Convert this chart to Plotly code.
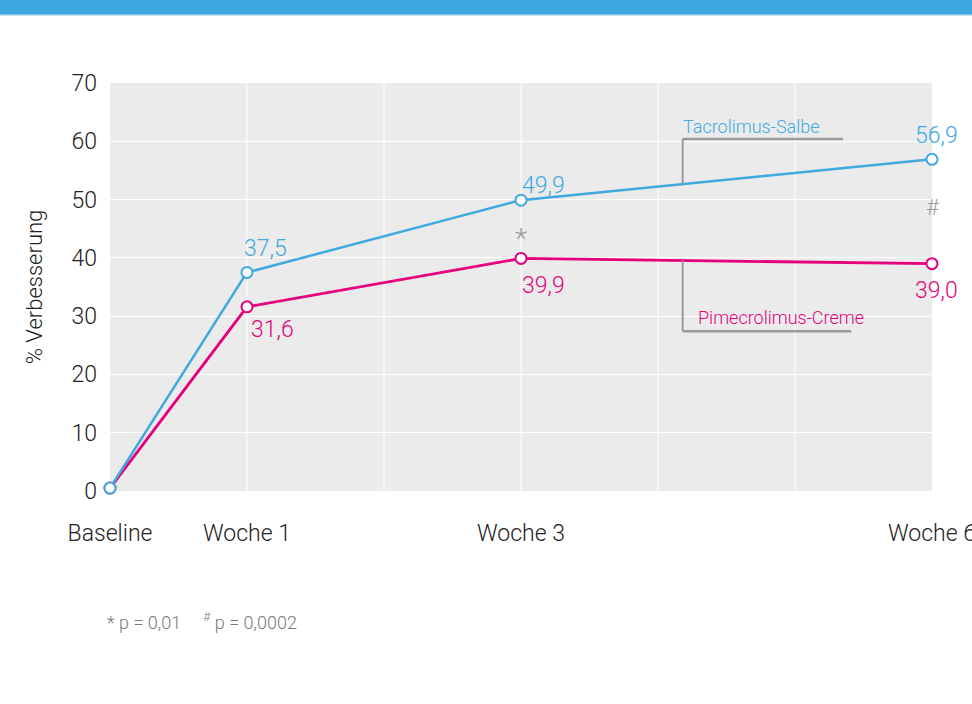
import plotly.graph_objects as go

weeks = [0, 1, 3, 6]
week_labels = ["Baseline", "Woche 1", "Woche 3", "Woche 6"]
tacrolimus = [0.5, 37.5, 49.9, 56.9]
pimecrolimus = [0.5, 31.6, 39.9, 39.0]
tac_labels = ["", "37,5", "49,9", "56,9"]
pime_labels = ["", "31,6", "39,9", "39,0"]

BLUE = "#3fa9e0"
PINK = "#e5007d"
GRAY = "#9a9a9a"
FONT = "Roboto"
W = 300

fig = go.Figure()

def interp(xs, ys, x):
    for i in range(len(xs) - 1):
        if xs[i] <= x <= xs[i + 1]:
            t = (x - xs[i]) / (xs[i + 1] - xs[i])
            return ys[i] + t * (ys[i + 1] - ys[i])
    return ys[-1]

bx = 4.18
fig.add_shape(type="line", xref="x", yref="y", x0=bx, x1=bx, y0=interp(weeks, tacrolimus, bx), y1=60.4,
              line=dict(color=GRAY, width=2), layer="above")
fig.add_shape(type="line", xref="x", yref="y", x0=bx, x1=5.35, y0=60.4, y1=60.4,
              line=dict(color=GRAY, width=2.5), layer="above")
fig.add_shape(type="line", xref="x", yref="y", x0=bx, x1=bx, y0=interp(weeks, pimecrolimus, bx), y1=27.4,
              line=dict(color=GRAY, width=2), layer="above")
fig.add_shape(type="line", xref="x", yref="y", x0=bx, x1=5.41, y0=27.4, y1=27.4,
              line=dict(color=GRAY, width=2.5), layer="above")

fig.add_trace(go.Scatter(
    x=weeks, y=pimecrolimus, mode="lines+markers", name="Pimecrolimus-Creme",
    line=dict(color=PINK, width=2.8),
    marker=dict(symbol="circle", size=11, color="white", line=dict(color=PINK, width=2)),
    cliponaxis=False, showlegend=False, hoverinfo="skip"))
fig.add_trace(go.Scatter(
    x=weeks, y=tacrolimus, mode="lines+markers", name="Tacrolimus-Salbe",
    line=dict(color=BLUE, width=2.5),
    marker=dict(symbol="circle", size=11, color="white", line=dict(color=BLUE, width=2)),
    cliponaxis=False, showlegend=False, hoverinfo="skip"))

tac_off = [(0, 0), (18, 24), (22, 15), (4, 24)]
pime_off = [(0, 0), (25, -23), (22, -27), (4, -27)]
for i in range(1, 4):
    fig.add_annotation(x=weeks[i], y=tacrolimus[i], text=tac_labels[i], showarrow=False,
                       xshift=tac_off[i][0], yshift=tac_off[i][1],
                       font=dict(family=FONT, size=23, color=BLUE, weight=W))
    fig.add_annotation(x=weeks[i], y=pimecrolimus[i], text=pime_labels[i], showarrow=False,
                       xshift=pime_off[i][0], yshift=pime_off[i][1],
                       font=dict(family=FONT, size=23, color=PINK, weight=W))

fig.add_annotation(x=3, y=(tacrolimus[2] + pimecrolimus[2]) / 2, text="*", showarrow=False,
                   xshift=0, yshift=-9, font=dict(family=FONT, size=28, color=GRAY, weight=W))
fig.add_annotation(x=6, y=(tacrolimus[3] + pimecrolimus[3]) / 2, text="#", showarrow=False,
                   yshift=4, font=dict(family=FONT, size=22, color=GRAY, weight=W))

fig.add_annotation(x=bx, y=60.4, text="Tacrolimus-Salbe", showarrow=False, xanchor="left", yanchor="bottom",
                   xshift=-2, yshift=0, font=dict(family=FONT, size=18, color=BLUE, weight=W))
fig.add_annotation(x=bx, y=27.4, text="Pimecrolimus-Creme", showarrow=False, xanchor="left", yanchor="bottom",
                   xshift=13, yshift=1, font=dict(family=FONT, size=18, color=PINK, weight=W))

fig.add_annotation(xref="paper", yref="paper", x=-0.006, y=-0.318, xanchor="left", yanchor="middle",
                   text="* p = 0,01&nbsp;&nbsp;&nbsp;&nbsp;&nbsp;<sup>#</sup> p = 0,0002", showarrow=False,
                   font=dict(family=FONT, size=18, color="#7a7a7a", weight=W))

fig.add_shape(type="rect", xref="paper", yref="paper", x0=-0.2, x1=1.2, y0=1.167, y1=1.4,
              fillcolor="#3ea9e0", line=dict(width=0), layer="above")
fig.add_shape(type="line", xref="paper", yref="paper", x0=-0.2, x1=1.2, y0=1.167, y1=1.167,
              line=dict(color="#7ec4ea", width=1.5), layer="above")

fig.update_layout(
    width=972, height=704,
    margin=dict(l=110, r=40, t=83, b=213),
    paper_bgcolor="white", plot_bgcolor="#ebebeb",
    font=dict(family=FONT, color="#222222"),
    hovermode=False,
    xaxis=dict(range=[0, 6], tickmode="array", tickvals=weeks, ticktext=week_labels,
               showgrid=False, zeroline=False, showline=False, automargin=False,
               tickfont=dict(family=FONT, size=23, color="#222222", weight=W),
               ticks="", ticklabelstandoff=26, ticklabeloverflow="allow"),
    yaxis=dict(range=[0, 70], tickvals=[0, 10, 20, 30, 40, 50, 60, 70],
               showgrid=True, gridcolor="white", gridwidth=1, zeroline=False, showline=False,
               automargin=False,
               tickfont=dict(family=FONT, size=23, color="#222222", weight=W),
               ticks="", ticklabelstandoff=12,
               title=dict(text="% Verbesserung", font=dict(family=FONT, size=22, color="#222222", weight=W),
                          standoff=22)),
)

for w in range(1, 6):
    fig.add_shape(type="line", xref="x", yref="paper", x0=w, x1=w, y0=0, y1=1,
                  line=dict(color="white", width=1), layer="below")

fig.write_html("out.html", config={"displayModeBar": False},
               post_script="document.body.style.margin='0';document.body.style.overflow='hidden';")
